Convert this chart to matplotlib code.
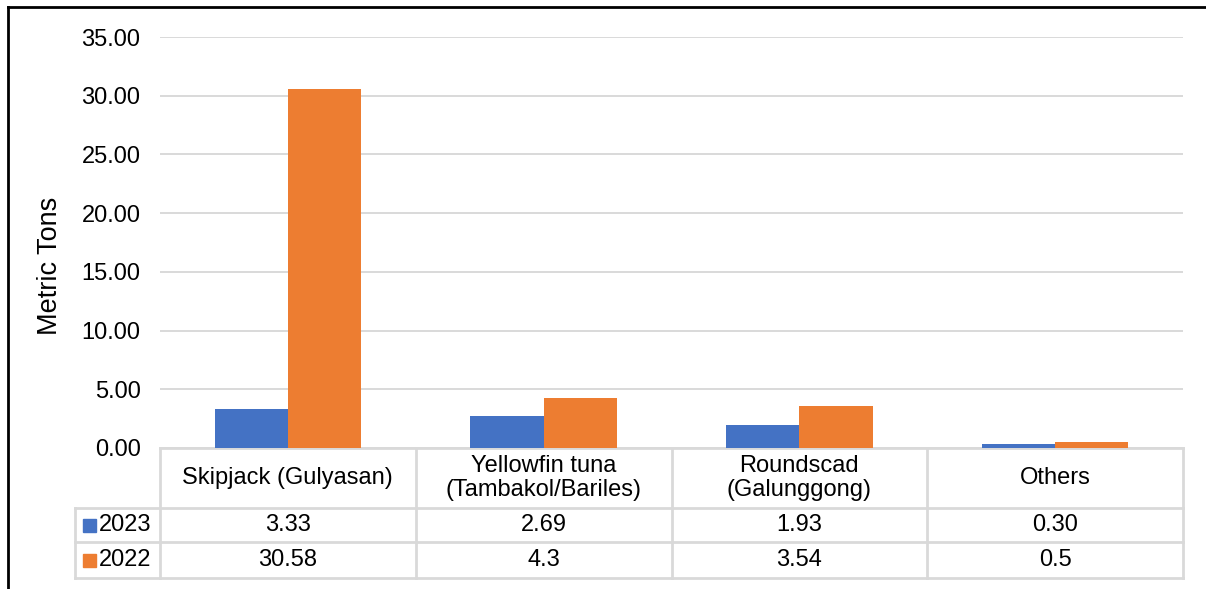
import matplotlib.pyplot as plt
import matplotlib.transforms as mtransforms
from matplotlib.lines import Line2D
from matplotlib.patches import Rectangle
import numpy as np

plt.rcParams['font.family'] = ['Liberation Sans', 'DejaVu Sans']

# === Data ===
categories = ["Skipjack (Gulyasan)", "Yellowfin tuna\n(Tambakol/Bariles)",
              "Roundscad\n(Galunggong)", "Others"]
series_names = ["2023", "2022"]
values_2023 = [3.33, 2.69, 1.93, 0.30]
values_2022 = [30.58, 4.3, 3.54, 0.5]
labels_2023 = ["3.33", "2.69", "1.93", "0.30"]
labels_2022 = ["30.58", "4.3", "3.54", "0.5"]
colors = ["#4472C4", "#ED7D31"]
yticks = [0, 5, 10, 15, 20, 25, 30, 35]

FS = 17
W, H = 1206, 589
fig = plt.figure(figsize=(W / 100, H / 100), dpi=100)

# plot area in pixels
x0, x1 = 160, 1183
ytop, ybot = 37, 448
ax = fig.add_axes([x0 / W, 1 - ybot / H, (x1 - x0) / W, (ybot - ytop) / H])

x = np.arange(len(categories))
bw = 0.286
ax.bar(x - bw / 2, values_2023, bw, color=colors[0], zorder=3)
ax.bar(x + bw / 2, values_2022, bw, color=colors[1], zorder=3)

ax.set_xlim(-0.5, len(categories) - 0.5)
ax.set_ylim(0, 35)
ax.set_yticks(yticks)
ax.set_yticklabels([f"{v:.2f}" for v in yticks], fontsize=FS)
ax.tick_params(axis='y', length=0, pad=14)
ax.set_xticks([])
ax.grid(axis='y', color='#d9d9d9', linewidth=1.4, zorder=0)
for s in ax.spines.values():
    s.set_visible(False)
ax.set_ylabel("Metric Tons", fontsize=19.5)
ax.yaxis.set_label_coords(-0.095, 0.443)

# === Data table below the plot ===
tr = mtransforms.blended_transform_factory(ax.transData, ax.transAxes)
ph = ybot - ytop
def ay(py):
    return -(py - ybot) / ph

line_kw = dict(color='#d9d9d9', linewidth=2, clip_on=False, zorder=1)
row_lines = [448, 508, 542, 578]
cell_w = (x1 - x0) / len(categories)
legend_left = -0.5 - (x0 - 75) / cell_w
edges = np.arange(len(categories) + 1) - 0.5

# horizontal lines
ax.plot([edges[0], edges[-1]], [ay(448)] * 2, transform=tr, **line_kw)
for py in row_lines[1:]:
    ax.plot([legend_left, edges[-1]], [ay(py)] * 2, transform=tr, **line_kw)
# vertical lines
for e in edges:
    ax.plot([e, e], [ay(448), ay(578)], transform=tr, **line_kw)
ax.plot([legend_left, legend_left], [ay(508), ay(578)], transform=tr, **line_kw)

# header
for i, c in enumerate(categories):
    ax.text(i, ay(478), c, transform=tr, ha='center', va='center',
            fontsize=FS, linespacing=1.06)

# rows
rows = [(labels_2023, ay(525)), (labels_2022, ay(560))]
for (labs, yy), name, col in zip(rows, series_names, colors):
    for i, lab in enumerate(labs):
        ax.text(i, yy, lab, transform=tr, ha='center', va='center', fontsize=FS)
    lx = -0.5 - (x0 - 83) / cell_w
    sq = Rectangle((lx, yy - 6.5 / ph), 13 / cell_w, 13 / ph, transform=tr,
                   color=col, clip_on=False)
    ax.add_patch(sq)
    ax.text(-0.5 - (x0 - 99) / cell_w, yy, name, transform=tr,
            ha='left', va='center', fontsize=FS)

# outer frame (top and left edges visible)
fig.add_artist(Line2D([8 / W, 1], [1 - 7 / H, 1 - 7 / H], color='black', linewidth=2))
fig.add_artist(Line2D([8 / W, 8 / W], [0, 1 - 7 / H], color='black', linewidth=2))

fig.savefig("out.png", dpi=100)
